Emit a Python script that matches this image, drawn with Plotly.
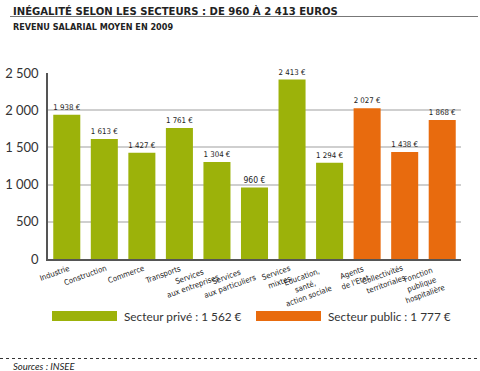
import plotly.graph_objects as go

categories = ["Industrie", "Construction", "Commerce", "Transports",
              "Services<br>aux entreprises", "Services<br>aux particuliers",
              "Services<br>mixtes", "Éducation,<br>santé,<br>action sociale",
              "Agents<br>de l'Etat", "Collectivités<br>territoriales",
              "Fonction<br>publique<br>hospitalière"]
private_cats = categories[:8]
private_vals = [1938, 1613, 1427, 1761, 1304, 960, 2413, 1294]
public_cats = categories[8:]
public_vals = [2027, 1438, 1868]
legend_names = ["Secteur privé", "Secteur public"]
legend_avgs = [1562, 1777]
yticks = [0, 500, 1000, 1500, 2000, 2500]

GREEN = "#9cb20a"
ORANGE = "#e86b0e"
NARROW = "DejaVu Sans Condensed, Liberation Sans Narrow, Arial Narrow, sans-serif"

fig = go.Figure()
for cats, vals, col in [(private_cats, private_vals, GREEN), (public_cats, public_vals, ORANGE)]:
    fig.add_trace(go.Bar(
        x=cats, y=vals, marker=dict(color=col, line=dict(width=0)),
        texttemplate="%{y:,} €", textposition="outside",
        textfont=dict(family=NARROW, size=8.5, color="#222"),
        cliponaxis=False, showlegend=False, hoverinfo="skip"))

fig.update_layout(
    width=480, height=371,
    margin=dict(l=48, r=19, t=73, b=112),
    paper_bgcolor="white", plot_bgcolor="white",
    barmode="overlay", bargap=0.28,
    separators=", ",
    showlegend=False,
    font=dict(family="Lato, Noto Sans, sans-serif", color="#333"),
)
fig.update_xaxes(categoryorder="array", categoryarray=categories,
                 range=[-0.5, len(categories) - 0.5],
                 showticklabels=False, showline=True, linecolor="#555", linewidth=1.5,
                 ticks="", showgrid=False, automargin=False)
fig.update_yaxes(range=[0, 2500], tickvals=yticks, tickformat=",",
                 showline=True, linecolor="#555", linewidth=1.5,
                 showgrid=True, gridcolor="#cfcfcf", gridwidth=1.5,
                 ticks="", ticklabelstandoff=5, automargin=False,
                 tickfont=dict(size=13, color="#333"), zeroline=False)

# Category labels
for c in categories:
    fig.add_annotation(x=c, y=0, xref="x", yref="y", text=c, showarrow=False,
                       textangle=-20, xanchor="right", yanchor="top",
                       xshift=6, yshift=-2, align="center",
                       font=dict(family=NARROW, size=7.8, color="#222"))

W, H = 480, 371
pw, ph = W - 48 - 19, H - 73 - 112
def px(x): return (x - 48) / pw
def py(y): return (H - 112 - y) / ph

# Title / subtitle / source
fig.add_annotation(x=px(11), y=py(11), xref="paper", yref="paper",
                   text="<b>INÉGALITÉ SELON LES SECTEURS : DE 960 À 2 413 EUROS</b>",
                   showarrow=False, xanchor="left", yanchor="middle",
                   font=dict(family=NARROW, size=11.2, color="#222"))
fig.add_annotation(x=px(11), y=py(27), xref="paper", yref="paper",
                   text="<b>REVENU SALARIAL MOYEN EN 2009</b>",
                   showarrow=False, xanchor="left", yanchor="middle",
                   font=dict(family=NARROW, size=9, color="#222"))
fig.add_annotation(x=px(11), y=py(366), xref="paper", yref="paper",
                   text="<i>Sources : INSEE</i>",
                   showarrow=False, xanchor="left", yanchor="middle",
                   font=dict(family="Lato, sans-serif", size=9.5, color="#222"))

# Legend
shapes = []
for x0, col, name, avg in zip([52, 256], [GREEN, ORANGE], legend_names, legend_avgs):
    shapes.append(dict(type="rect", xref="paper", yref="paper", x0=px(x0), x1=px(x0 + 65),
                       y0=py(321), y1=py(311), fillcolor=col, line=dict(width=0)))
    fig.add_annotation(x=px(x0 + 70), y=py(316), xref="paper", yref="paper",
                       text=f"{name} : {avg:,} €".replace(",", " "),
                       showarrow=False, xanchor="left", yanchor="middle",
                       font=dict(size=11.8, color="#333"))

shapes.append(dict(type="line", xref="paper", yref="paper", x0=px(10), x1=px(478),
                   y0=py(16.5), y1=py(16.5), line=dict(color="#777", width=1.2)))
shapes.append(dict(type="line", xref="paper", yref="paper", x0=px(0), x1=px(480),
                   y0=py(358.5), y1=py(358.5), line=dict(color="#333", width=1, dash="dot")))
fig.update_layout(shapes=shapes)

fig.write_html("out.html", config={"displayModeBar": False},
               post_script="document.body.style.margin='0';document.body.style.overflow='hidden';")
